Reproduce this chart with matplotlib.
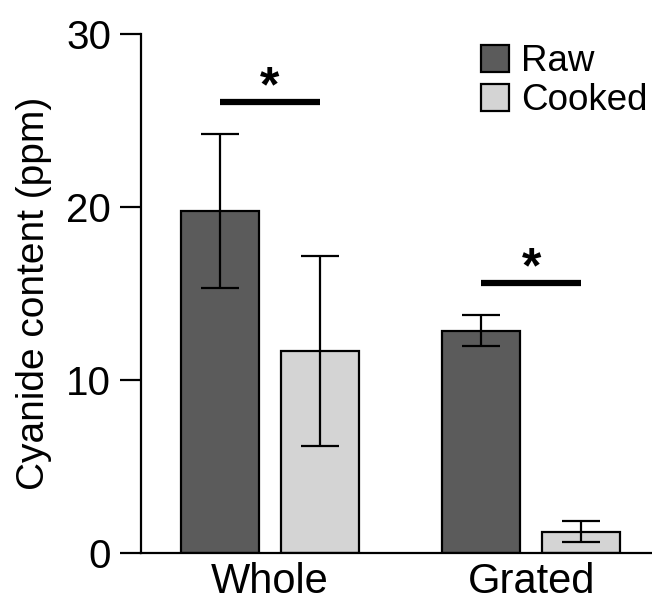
import matplotlib
matplotlib.use("Agg")
import matplotlib.pyplot as plt
import numpy as np

# values (ppm)
groups = ["Whole", "Grated"]
raw_mean = [19.8, 12.85]
raw_err = [4.45, 0.9]
cooked_mean = [11.7, 1.25]
cooked_err = [5.5, 0.6]
sig_y = [26.05, 15.6]
yticks = [0, 10, 20, 30]

plt.rcParams["font.family"] = ["Liberation Sans", "DejaVu Sans"]

fig = plt.figure(figsize=(6.52, 6.02), dpi=100)
ax = fig.add_axes([140.5 / 652, 1 - 553.3 / 602, 1 - 140.5 / 652, (553.3 - 34) / 602])

x = np.arange(len(groups))
off, w = 0.192, 0.30
err_kw = dict(elinewidth=1.6, capthick=1.6, capsize=14, ecolor="black")
ax.bar(x - off, raw_mean, w, yerr=raw_err, color="#5b5b5b", edgecolor="black",
       linewidth=1.6, label="Raw", error_kw=err_kw, zorder=2)
ax.bar(x + off, cooked_mean, w, yerr=cooked_err, color="#d4d4d4", edgecolor="black",
       linewidth=1.6, label="Cooked", error_kw=err_kw, zorder=2)

# significance bars with asterisks
for xi, yi in zip(x, sig_y):
    ax.plot([xi - off, xi + off], [yi, yi], color="black", lw=4.5,
            solid_capstyle="butt")
    ax.annotate("*", (xi, yi), xytext=(0, 1), textcoords="offset points",
                ha="center", va="baseline", fontsize=36, fontweight="bold")

ax.set_xlim(-0.496, 1.463)
ax.set_ylim(0, 30)
ax.set_yticks(yticks)
ax.set_xticks(x, groups)
ax.tick_params(axis="y", length=15, width=1.6, labelsize=29, pad=6)
ax.tick_params(axis="x", length=0, labelsize=30, pad=6)
ax.set_ylabel("Cyanide content (ppm)", fontsize=28, labelpad=10)
for s in ("top", "right"):
    ax.spines[s].set_visible(False)
for s in ("left", "bottom"):
    ax.spines[s].set_linewidth(1.6)

ax.legend(loc="upper left", bbox_to_anchor=(481 / 652, 1 - 44 / 602),
          bbox_transform=fig.transFigure, frameon=False, fontsize=26.5,
          handlelength=0.76, handleheight=0.76, handletextpad=0.33,
          labelspacing=0.12, borderpad=0, borderaxespad=0)

fig.savefig("out.png", dpi=100)
